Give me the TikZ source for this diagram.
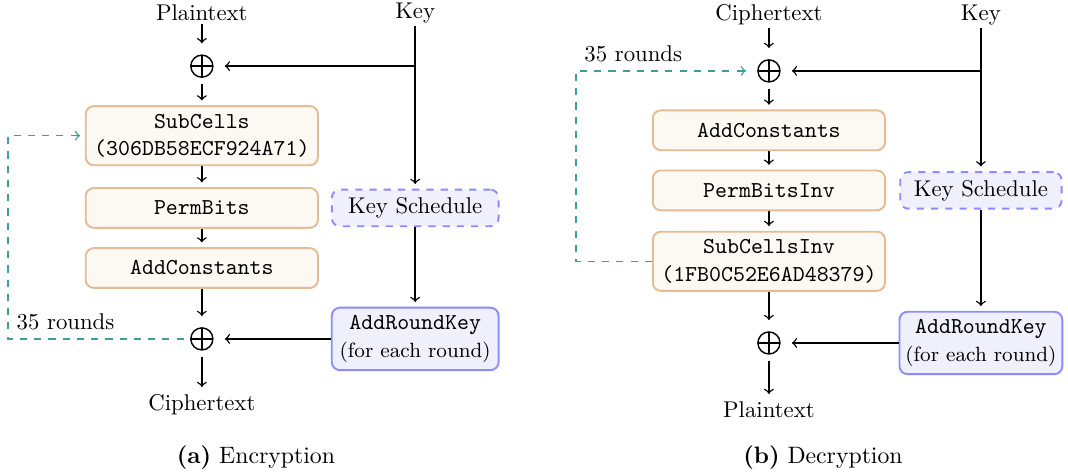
\documentclass[tikz,border=0pt]{standalone}
\usepackage{tikz}
\usetikzlibrary{arrows}

\definecolor{opborder}{RGB}{226,188,148}
\definecolor{opfill}{RGB}{252,248,242}
\definecolor{keyborder}{RGB}{140,140,250}
\definecolor{keyfill}{RGB}{240,240,253}
\definecolor{loopcol}{RGB}{64,155,155}

\begin{document}
\begin{tikzpicture}[->,>=to,shorten >=2pt,semithick,
        every node/.style={font=\fontsize{9.6}{11.5}\selectfont},
        op box/.style={rectangle,rounded corners=3.4pt,draw=opborder,fill=opfill,thick,
            minimum width=3.44cm,minimum height=0.59cm,align=center,font=\fontsize{9.6}{11.5}\selectfont\ttfamily},
        key box/.style={rectangle,rounded corners=3.4pt,draw=keyborder,fill=keyfill,thick,
            minimum width=2.47cm,align=center},
        xor node/.style={circle,draw,semithick,minimum size=9.3pt,inner sep=0pt,outer sep=3pt,
            path picture={\draw[-,shorten >=0pt] (path picture bounding box.north) -- (path picture bounding box.south)
                (path picture bounding box.west) -- (path picture bounding box.east);}},
        io node/.style={inner sep=1pt},
        loop line/.style={loopcol,dashed,semithick}]
        \useasboundingbox (0,0) rectangle (15.82,-7.03);
        % encryption
        \node[io node] (pta) at (2.99,-0.19) {Plaintext};
        \node[io node] (keya) [right of=pta, node distance=3.16cm] {Key};
        \node[xor node] (xa1) [below of=pta, node distance=0.79cm] {};
        \node[op box] (sub) [below of=xa1, node distance=1.03cm] {SubCells\\(306DB58ECF924A71)};
        \node[op box] (perm) [below of=sub, node distance=1.07cm] {PermBits};
        \node[op box] (adda) [below of=perm, node distance=0.89cm] {AddConstants};
        \node[xor node] (xa2) [below of=adda, node distance=1.05cm] {};
        \node[io node] (cta) [below of=xa2, node distance=0.98cm] {Ciphertext};
        \node[key box, dashed, minimum height=0.52cm] (ksa) at (keya |- perm) {Key Schedule};
        \node[key box, minimum height=0.92cm] (rka) at (keya |- xa2) {\texttt{AddRoundKey}\\{\fontsize{8.7}{10}\selectfont(for each round)}};
        \coordinate (loopa) at (0.12,0);
        \path
        (pta) edge (xa1)
        (xa1) edge (sub)
        (sub) edge (perm)
        (perm) edge (adda)
        (adda) edge (xa2)
        (xa2) edge (cta)
        (keya) edge (ksa)
        (ksa) edge (rka)
        (rka) edge (xa2)
        ;
        \draw (keya |- xa1) -- (xa1);
        \draw[loop line] (xa2.west) -- (xa2 -| loopa) node[above right,black] {35 rounds} |- (sub.west);
        \node[io node,font=\normalsize] (capa) at (3.79,-6.77) {\textbf{(a)} Encryption};
        % decryption
        \node[io node] (ctb) at (11.39,-0.22) {Ciphertext};
        \node[io node] (keyb) [right of=ctb, node distance=3.14cm] {Key};
        \node[xor node] (xb1) [below of=ctb, node distance=0.83cm] {};
        \node[op box] (addb) [below of=xb1, node distance=0.88cm] {AddConstants};
        \node[op box] (perminv) [below of=addb, node distance=0.89cm] {PermBitsInv};
        \node[op box] (subinv) [below of=perminv, node distance=1.05cm] {SubCellsInv\\(1FB0C52E6AD48379)};
        \node[xor node] (xb2) [below of=subinv, node distance=1.21cm] {};
        \node[io node] (ptb) [below of=xb2, node distance=0.99cm] {Plaintext};
        \node[key box, dashed, minimum height=0.52cm, minimum width=2.39cm] (ksb) at (keyb |- perminv) {Key Schedule};
        \node[key box, minimum height=0.92cm, minimum width=2.39cm, inner xsep=2.5pt] (rkb) at (keyb |- xb2) {\texttt{AddRoundKey}\\{\fontsize{8.7}{10}\selectfont(for each round)}};
        \coordinate (loopb) at (8.53,0);
        \path
        (ctb) edge (xb1)
        (xb1) edge (addb)
        (addb) edge (perminv)
        (perminv) edge (subinv)
        (subinv) edge (xb2)
        (xb2) edge (ptb)
        (keyb) edge (ksb)
        (ksb) edge (rkb)
        (rkb) edge (xb2)
        ;
        \draw (keyb |- xb1) -- (xb1);
        \draw[loop line] (subinv.west) -- (subinv -| loopb) -- (loopb |- xb1) node[above right,black] {35 rounds} -- (xb1);
        \node[io node,font=\normalsize] (capb) at (12.19,-6.77) {\textbf{(b)} Decryption};
\end{tikzpicture}
\end{document}
